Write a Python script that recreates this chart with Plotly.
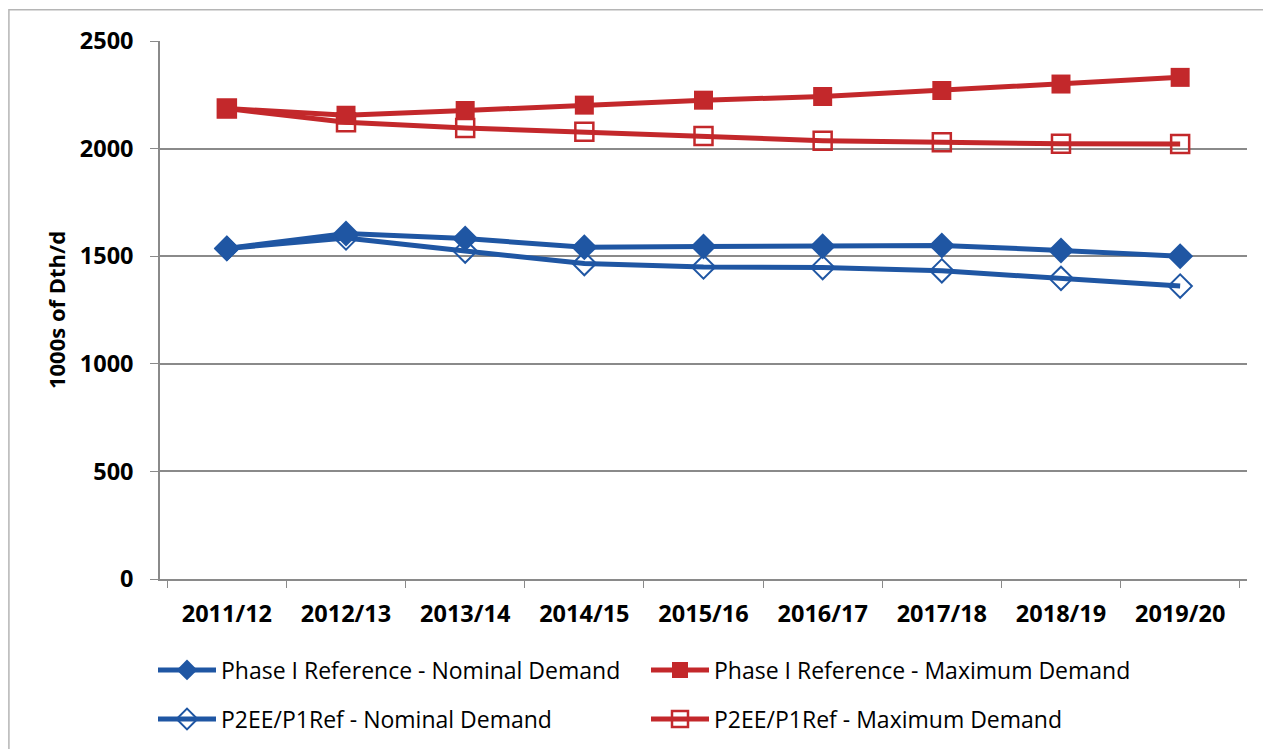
import plotly.graph_objects as go

years = ["2011/12", "2012/13", "2013/14", "2014/15", "2015/16",
         "2016/17", "2017/18", "2018/19", "2019/20"]

p1_nominal = [1536, 1606, 1582, 1542, 1545, 1546, 1550, 1527, 1500]
p1_maximum = [2186, 2155, 2177, 2202, 2225, 2242, 2270, 2300, 2331]
p2_nominal = [1536, 1585, 1524, 1466, 1450, 1447, 1432, 1397, 1361]
p2_maximum = [2186, 2122, 2096, 2078, 2059, 2037, 2029, 2022, 2021]

BLUE = "#1f56a3"
RED = "#c3282b"
GRID = "#8a8a8a"
FONT = "Open Sans"

fig = go.Figure()

# P2EE/P1Ref zuerst zeichnen, damit die gefüllten Marker oben liegen
fig.add_trace(go.Scatter(
    x=years, y=p2_nominal, name="P2EE/P1Ref - Nominal Demand",
    mode="lines+markers", line=dict(color=BLUE, width=5),
    marker=dict(symbol="diamond-open", size=18,
                line=dict(color=BLUE, width=2)),
    legend="legend2",
))
fig.add_trace(go.Scatter(
    x=years, y=p2_maximum, name="P2EE/P1Ref - Maximum Demand",
    mode="lines+markers", line=dict(color=RED, width=5),
    marker=dict(symbol="square-open", size=18,
                line=dict(color=RED, width=2.5)),
    legend="legend2",
))
# Phase I Referenz - gefüllte Marker
fig.add_trace(go.Scatter(
    x=years, y=p1_nominal, name="Phase I Reference - Nominal Demand",
    mode="lines+markers", line=dict(color=BLUE, width=5),
    marker=dict(symbol="diamond", size=20, color=BLUE),
    legend="legend",
))
fig.add_trace(go.Scatter(
    x=years, y=p1_maximum, name="Phase I Reference - Maximum Demand",
    mode="lines+markers", line=dict(color=RED, width=5),
    marker=dict(symbol="square", size=19, color=RED),
    legend="legend",
))

# Seite hat 8px Body-Rand -> Positionen entsprechend verschoben
legend_common = dict(
    orientation="h", xref="container", x=145 / 1271, xanchor="left",
    yref="container", yanchor="middle",
    entrywidth=420, entrywidthmode="pixels", itemwidth=58,
    font=dict(family=FONT, size=23, color="black"),
    bgcolor="rgba(0,0,0,0)", traceorder="normal",
)

fig.update_layout(
    width=1271, height=749,
    margin=dict(l=152, r=32, t=33, b=178, autoexpand=False),
    paper_bgcolor="white", plot_bgcolor="white",
    font=dict(family=FONT, color="black"),
    showlegend=True,
    legend=dict(y=1 - 662 / 749, **legend_common),
    legend2=dict(y=1 - 711 / 749, **legend_common),
    shapes=[dict(
        type="rect", xref="paper", yref="paper",
        x0=-0.139, x1=1.019, y0=-0.5, y1=1.058,
        line=dict(color="#b5b5b5", width=1.5), layer="below",
    )],
)

fig.update_xaxes(
    type="category", automargin=False,
    showline=True, linecolor=GRID, linewidth=1.5,
    ticks="outside", tickson="boundaries", ticklen=7, tickcolor=GRID,
    tickfont=dict(family=FONT, size=23.5, color="black", weight="bold"),
    ticklabelstandoff=13, showgrid=False,
)
fig.update_yaxes(
    range=[0, 2500], dtick=500, automargin=False,
    showline=True, linecolor=GRID, linewidth=1.5,
    ticks="outside", ticklen=8, tickcolor=GRID,
    gridcolor=GRID, gridwidth=1.5, zeroline=False,
    tickfont=dict(family=FONT, size=23.5, color="black", weight="bold"),
    ticklabelstandoff=12,
    title=dict(text="1000s of Dth/d", standoff=8,
               font=dict(family=FONT, size=22, color="black", weight="bold")),
)

fig.write_html("out.html")
